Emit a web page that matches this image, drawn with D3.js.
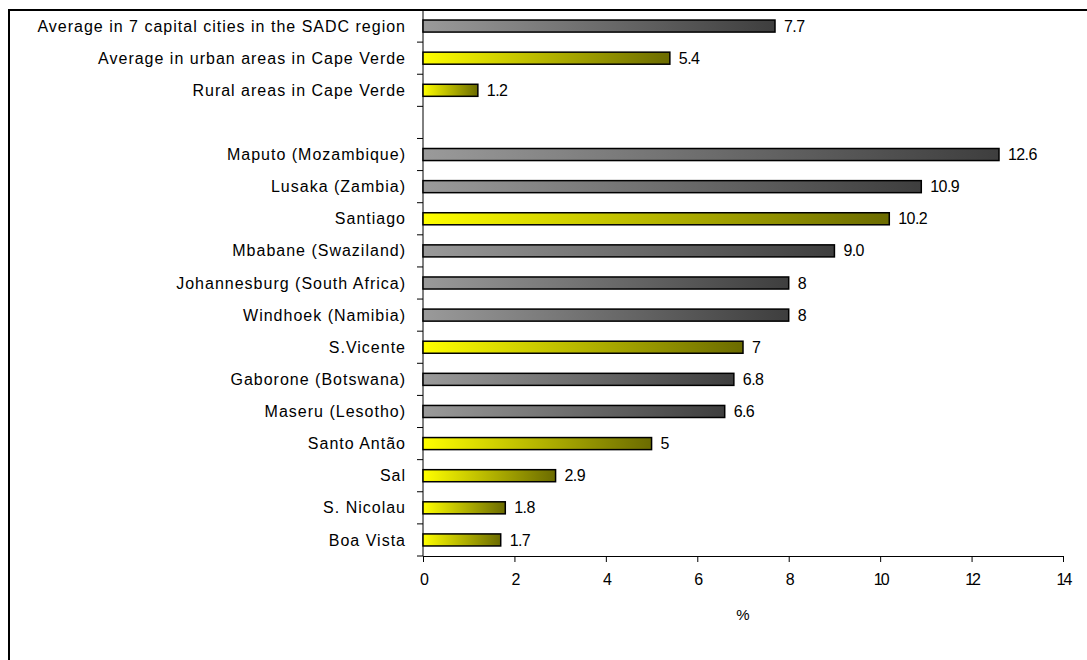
<!DOCTYPE html>
<html>
<head>
<meta charset="utf-8">
<script src="https://cdn.jsdelivr.net/npm/d3@7"></script>
<style>
  body { margin: 0; background: #fff; }
  svg text { font-family: "Liberation Sans", Arial, sans-serif; fill: #000; }
</style>
</head>
<body>
<div id="chart"></div>
<script>
var svgWidth = 1087;
var svgHeight = 660;

// data, top to bottom ("" is the empty spacer row)
var categories = [
  "Average in 7 capital cities in the SADC region",
  "Average in urban areas in Cape Verde",
  "Rural areas in Cape Verde",
  "",
  "Maputo (Mozambique)",
  "Lusaka (Zambia)",
  "Santiago",
  "Mbabane (Swaziland)",
  "Johannesburg (South Africa)",
  "Windhoek (Namibia)",
  "S.Vicente",
  "Gaborone (Botswana)",
  "Maseru (Lesotho)",
  "Santo Antão",
  "Sal",
  "S. Nicolau",
  "Boa Vista"
];
var values = [7.7, 5.4, 1.2, null, 12.6, 10.9, 10.2, 9.0, 8, 8, 7, 6.8, 6.6, 5, 2.9, 1.8, 1.7];
var valueLabels = ["7.7", "5.4", "1.2", "", "12.6", "10.9", "10.2", "9.0", "8", "8", "7", "6.8", "6.6", "5", "2.9", "1.8", "1.7"];
// true = Cape Verde (yellow), false = SADC (grey)
var capeVerde = [false, true, true, false, false, false, true, false, false, false, true, false, false, true, true, true, true];
var xTicks = [0, 2, 4, 6, 8, 10, 12, 14];

var margin = { top: 10, left: 423, right: 24, bottom: 104 };
var width = svgWidth - margin.left - margin.right;
var height = svgHeight - margin.top - margin.bottom;

var svg = d3.select("#chart").append("svg")
  .attr("width", svgWidth)
  .attr("height", svgHeight);

// frame (only top and left edges are inside the picture)
svg.append("rect")
  .attr("x", 9).attr("y", 10)
  .attr("width", 1200).attr("height", 800)
  .attr("fill", "none").attr("stroke", "#000").attr("stroke-width", 2);

var defs = svg.append("defs");
var gGrey = defs.append("linearGradient").attr("id", "gradGrey")
  .attr("x1", "0%").attr("x2", "100%").attr("y1", "0%").attr("y2", "0%");
gGrey.append("stop").attr("offset", "0%").attr("stop-color", "#9a9a9a");
gGrey.append("stop").attr("offset", "100%").attr("stop-color", "#3e3e3e");
var gYellow = defs.append("linearGradient").attr("id", "gradYellow")
  .attr("x1", "0%").attr("x2", "100%").attr("y1", "0%").attr("y2", "0%");
gYellow.append("stop").attr("offset", "0%").attr("stop-color", "#ffff00");
gYellow.append("stop").attr("offset", "100%").attr("stop-color", "#6b6b00");

var chartGroup = svg.append("g")
  .attr("transform", "translate(" + margin.left + "," + margin.top + ")");

var rows = categories.map(function(c, i) {
  return { key: i, name: c, value: values[i], label: valueLabels[i], cv: capeVerde[i] };
});

var xScale = d3.scaleLinear().domain([0, 14]).range([0, 640]);
var yScale = d3.scaleBand()
  .domain(rows.map(function(d) { return d.key; }))
  .range([0, height])
  .paddingInner(0.625)
  .paddingOuter(0.3125);

// axes
var xAxis = chartGroup.append("g")
  .attr("transform", "translate(0," + height + ")")
  .call(d3.axisBottom(xScale).tickValues(xTicks).tickSize(6).tickSizeOuter(0));
xAxis.select(".domain").attr("stroke", "#000");
xAxis.selectAll("text")
  .attr("font-size", "16px")
  .attr("dy", "1.25em")
  .attr("letter-spacing", "-2px");

// y axis line with ticks between categories
var step = yScale.step();
chartGroup.append("line")
  .attr("x1", 0).attr("x2", 0).attr("y1", 0).attr("y2", height)
  .attr("stroke", "#000");
d3.range(0, categories.length + 1).forEach(function(i) {
  var y = yScale(0) - yScale.paddingOuter() * step + i * step;
  chartGroup.append("line")
    .attr("x1", -6).attr("x2", 0).attr("y1", y).attr("y2", y)
    .attr("stroke", "#000");
});

// category labels
chartGroup.selectAll(".cat")
  .data(rows)
  .enter().append("text")
  .attr("class", "cat")
  .attr("x", -17)
  .attr("y", function(d) { return yScale(d.key) + yScale.bandwidth() / 2; })
  .attr("dy", "0.35em")
  .attr("text-anchor", "end")
  .attr("font-size", "16px")
  .attr("letter-spacing", "1px")
  .text(function(d) { return d.name; });

// bars
var barRows = rows.filter(function(d) { return d.value !== null; });
chartGroup.selectAll(".bar")
  .data(barRows)
  .enter().append("rect")
  .attr("class", "bar")
  .attr("x", xScale(0))
  .attr("y", function(d) { return yScale(d.key); })
  .attr("width", function(d) { return xScale(d.value) - xScale(0); })
  .attr("height", yScale.bandwidth())
  .attr("fill", function(d) { return d.cv ? "url(#gradYellow)" : "url(#gradGrey)"; })
  .attr("stroke", "#000")
  .attr("stroke-width", 1.5);

// value labels
chartGroup.selectAll(".val")
  .data(barRows)
  .enter().append("text")
  .attr("class", "val")
  .attr("x", function(d) { return xScale(d.value) + 9; })
  .attr("y", function(d) { return yScale(d.key) + yScale.bandwidth() / 2; })
  .attr("dy", "0.35em")
  .attr("font-size", "16px")
  .attr("letter-spacing", "-0.6px")
  .text(function(d) { return d.label; });

// axis title
chartGroup.append("text")
  .attr("x", xScale(7))
  .attr("y", height + 64)
  .attr("text-anchor", "middle")
  .attr("font-size", "15px")
  .text("%");
</script>
</body>
</html>
